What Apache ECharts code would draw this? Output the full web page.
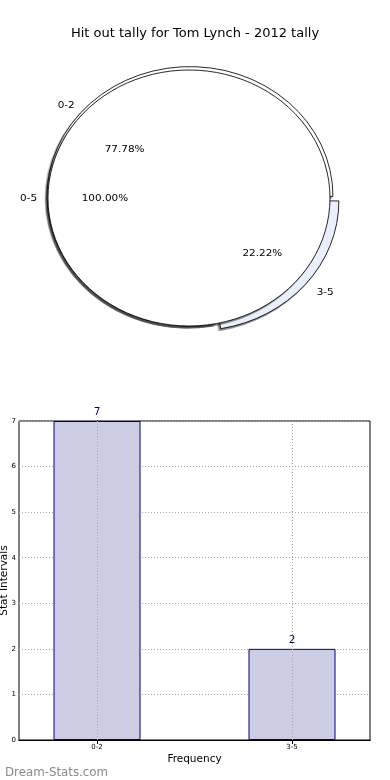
<!DOCTYPE html>
<html><head><meta charset="utf-8">
<script src="https://cdn.jsdelivr.net/npm/echarts@6/dist/echarts.min.js"></script>
<style>
html,body{margin:0;padding:0;width:390px;height:780px;overflow:hidden;background:#fff}
#main{position:absolute;left:0;top:0;width:390px;height:780px}
#pie{position:absolute;left:0;top:0;width:390px;height:400px;transform-origin:189px 198px;transform:scaleX(1.1016);pointer-events:none}
</style></head><body><div id="main"></div><div id="pie"></div>
<script>
const titleText = 'Hit out tally for Tom Lynch - 2012 tally';
const innerNames = ['0-5'];
const innerValues = [9];
const outerNames = ['0-2', '3-5'];
const outerValues = [7, 2];
const explodedName = '3-5';
const barCategories = ['0-2', '3-5'];
const barValues = [7, 2];
const yTicks = [0, 1, 2, 3, 4, 5, 6, 7];
const xAxisTitle = 'Frequency';
const yAxisTitle = 'Stat Intervals';
const watermark = 'Dream-Stats.com';

const FF = 'DejaVu Sans';
const R = 128;
const C = [189, 198];

function pct(p) { return p.percent.toFixed(2) + '%'; }

function labelSeries(names, values, r0, r1, fmt, explodedLabel) {
  return {
    type: 'pie', z: 10, silent: true, animation: false,
    startAngle: 0, clockwise: false, center: C, radius: [r0, r1],
    selectedMode: 'multiple', selectedOffset: 8,
    data: names.map((n, i) => {
      const d = { name: n, value: values[i], selected: n === explodedName };
      if (n === explodedName && explodedLabel) d.label = explodedLabel;
      return d;
    }),
    itemStyle: { color: 'rgba(0,0,0,0)', borderWidth: 0 },
    label: { show: true, position: 'inside', formatter: fmt, color: '#000', fontSize: 9.5, fontFamily: FF },
    labelLine: { show: false },
    emphasis: { disabled: true }
  };
}

const pie = echarts.init(document.getElementById('pie'), null, { renderer: 'svg' });
pie.setOption({
  animation: false,
  series: [
    {
      type: 'pie', z: 1, silent: true, startAngle: 0, clockwise: false,
      center: [C[0] + 0.9, C[1] - 1.6], radius: [R - 12, R + 1.8],
      selectedMode: 'multiple', selectedOffset: 7,
      data: outerNames.map((n, i) => ({
        name: n, value: outerValues[i], selected: n === explodedName,
        itemStyle: { color: n === explodedName ? '#e9effc' : '#ffffff' }
      })),
      itemStyle: { borderColor: '#000', borderWidth: 0.8, shadowColor: 'rgba(0,0,0,0.45)', shadowOffsetX: -1.5, shadowOffsetY: 2, shadowBlur: 0 },
      label: { show: false }, labelLine: { show: false }, emphasis: { disabled: true }
    },
    {
      type: 'pie', z: 2, silent: true, startAngle: 0, clockwise: false,
      center: C, radius: [0, R],
      data: innerNames.map((n, i) => ({ name: n, value: innerValues[i] })),
      itemStyle: { color: '#ffffff', borderColor: '#000', borderWidth: 0.8, shadowColor: 'rgba(0,0,0,0.45)', shadowOffsetX: -1.5, shadowOffsetY: 2, shadowBlur: 0 },
      label: { show: false }, labelLine: { show: false }, emphasis: { disabled: true }
    },
    labelSeries(innerNames, innerValues, R * 0.55 - 3.5, R * 0.65 - 3.5, pct),
    labelSeries(innerNames, innerValues, R * 1.10 - 4, R * 1.19 - 4, p => p.name),
    labelSeries(outerNames, outerValues, R * 0.55 - 3.5, R * 0.65 - 3.5, pct, { padding: [0, 0, 0, 4] }),
    labelSeries(outerNames, outerValues, R * 1.10 - 4, R * 1.19 - 4, p => p.name, { padding: [0, 0, 0, 12], formatter: '{b}\n', lineHeight: 10 })
  ]
});

const tickStyle = { show: true, inside: true, length: 4, lineStyle: { color: '#000' } };
const main = echarts.init(document.getElementById('main'));
main.setOption({
  animation: false,
  backgroundColor: '#fff',
  title: [
    { text: titleText, left: 'center', top: 22, textStyle: { fontFamily: FF, fontSize: 13, fontWeight: 'normal', color: '#000' } },
    { text: watermark, left: 0, top: 762, textStyle: { fontFamily: FF, fontSize: 11.8, fontWeight: 'normal', color: '#8a8a8a' } }
  ],
  grid: { left: 19, right: 20, top: 421, bottom: 40, containLabel: false, outerBoundsMode: 'none', show: true, borderColor: '#000', borderWidth: 1, backgroundColor: 'transparent' },
  xAxis: [{
    type: 'value', min: -0.4, max: 1.4,
    name: xAxisTitle, nameLocation: 'middle', nameGap: 14,
    nameTextStyle: { fontFamily: FF, fontSize: 10.5, color: '#000' },
    axisLine: { show: true, lineStyle: { color: '#000' } },
    axisTick: Object.assign({ customValues: [0, 1] }, tickStyle),
    axisLabel: { customValues: [0, 1], formatter: v => barCategories[Math.round(v)], fontFamily: FF, fontSize: 7, color: '#000', margin: 4 },
    splitLine: { show: false }
  }, {
    type: 'value', min: -0.4, max: 1.4, position: 'top',
    axisLine: { show: true, lineStyle: { color: '#000' } },
    axisTick: Object.assign({ customValues: [0, 1] }, tickStyle),
    axisLabel: { show: false }, splitLine: { show: false }
  }],
  yAxis: [{
    type: 'value', min: yTicks[0], max: yTicks[yTicks.length - 1], interval: 1,
    name: yAxisTitle, nameLocation: 'middle', nameGap: 9, nameMoveOverlap: false,
    nameTextStyle: { fontFamily: FF, fontSize: 10.5, color: '#000' },
    axisLine: { show: true, lineStyle: { color: '#000' } },
    axisTick: tickStyle,
    axisLabel: { fontFamily: FF, fontSize: 7, color: '#000', margin: 3 },
    splitLine: { show: true, lineStyle: { type: [1, 2], color: '#a8a8a8', width: 1 } }
  }, {
    type: 'value', min: yTicks[0], max: yTicks[yTicks.length - 1], interval: 1, position: 'right',
    axisLine: { show: true, lineStyle: { color: '#000' } },
    axisTick: tickStyle,
    axisLabel: { show: false }, splitLine: { show: false }
  }],
  series: [{
    type: 'bar', barWidth: 87, xAxisIndex: 0, yAxisIndex: 0,
    data: barValues.map((v, i) => [i, v]),
    itemStyle: { color: '#ccccE5', borderColor: '#000080', borderWidth: 1 },
    label: { show: true, position: 'top', distance: 3, color: '#000080', fontFamily: FF, fontSize: 10.5, formatter: p => p.value[1] },
    emphasis: { disabled: true },
    markLine: {
      silent: true, symbol: ['none', 'none'], label: { show: false },
      lineStyle: { type: [1, 2], color: '#a8a8a8', width: 1 },
      data: barCategories.map((c, i) => ({ xAxis: i }))
    }
  }]
});
</script></body></html>
